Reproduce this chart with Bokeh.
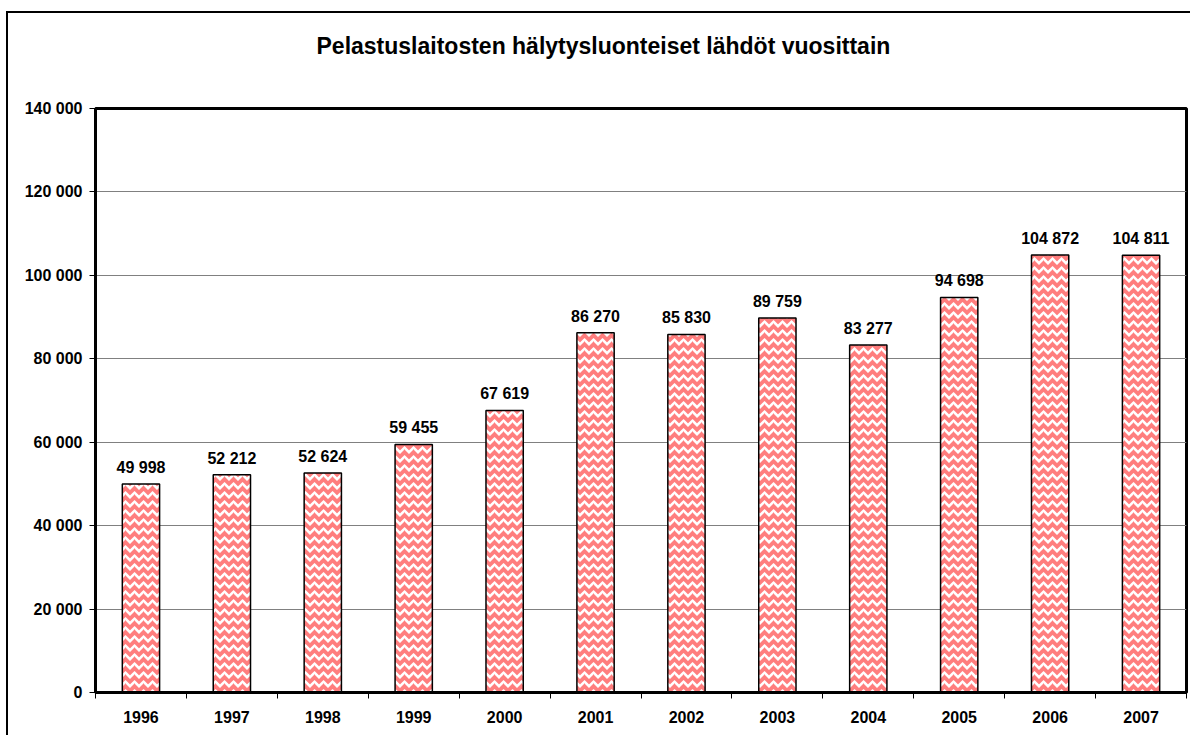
from bokeh.plotting import figure
from bokeh.models import ColumnDataSource, Range1d, FixedTicker, LabelSet, Title
from bokeh.core.properties import value
from bokeh.embed import file_html
from bokeh.resources import INLINE

years = ["1996", "1997", "1998", "1999", "2000", "2001", "2002", "2003", "2004", "2005", "2006", "2007"]
values = [49998, 52212, 52624, 59455, 67619, 86270, 85830, 89759, 83277, 94698, 104872, 104811]
y_ticks = [0, 20000, 40000, 60000, 80000, 100000, 120000, 140000]
title_text = "Pelastuslaitosten hälytysluonteiset lähdöt vuosittain"

def fmt(v):
    return "{:,}".format(v).replace(",", " ")

xs = [i + 0.5 for i in range(len(years))]
src = ColumnDataSource(dict(x=xs, top=values, lab=[fmt(v) for v in values]))

p = figure(width=1184, height=724, output_backend="svg", toolbar_location=None,
           x_range=Range1d(0, len(years)), y_range=Range1d(0, 140000),
           min_border_left=87, min_border_top=95, min_border_right=6, min_border_bottom=45)
p.styles = {"border-left": "2px solid black", "border-top": "2px solid black",
            "margin-top": "11px", "margin-left": "6px"}

# spacer between frame and title
p.add_layout(Title(text=" ", text_font_size="23px", standoff=22), "above")

p.title.text = title_text
p.title.align = "left"
p.title.offset = 221
p.title.standoff = 0
p.title.text_font = "Liberation Sans"
p.title.text_font_style = "bold"
p.title.text_font_size = "23px"
p.title.text_color = "black"

p.vbar(x="x", top="top", width=0.41, source=src, fill_color="#ff7e7e",
       hatch_pattern="horizontal_wave", hatch_color="white", hatch_weight=2.5, hatch_scale=9,
       line_color="black", line_width=1.5)

p.add_layout(LabelSet(x="x", y="top", text="lab", source=src, text_align="center",
                      text_baseline="bottom", y_offset=8, text_font=value("Liberation Sans"),
                      text_font_style="bold", text_font_size="16px", text_color="black"))

p.outline_line_color = "black"
p.outline_line_width = 3

p.xgrid.grid_line_color = None
p.ygrid.grid_line_color = "#808080"
p.ygrid.grid_line_width = 1
p.ygrid.ticker = FixedTicker(ticks=y_ticks)

p.yaxis.ticker = FixedTicker(ticks=y_ticks, minor_ticks=[])
p.yaxis.major_label_overrides = {t: fmt(t) for t in y_ticks}
p.xaxis.ticker = FixedTicker(ticks=xs, minor_ticks=list(range(len(years) + 1)))
p.xaxis.major_label_overrides = {x: y for x, y in zip(xs, years)}

for ax in (p.xaxis, p.yaxis):
    ax.axis_line_color = "black"
    ax.axis_line_width = 3
    ax.major_label_text_font = "Liberation Sans"
    ax.major_label_text_font_style = "bold"
    ax.major_label_text_font_size = "16px"
    ax.major_label_text_color = "black"
    ax.major_tick_in = 0
    ax.minor_tick_in = 0
    ax.major_tick_line_color = "black"
    ax.minor_tick_line_color = "black"
    ax.major_tick_line_width = 1
    ax.minor_tick_line_width = 1

p.xaxis.major_tick_out = 0
p.xaxis.minor_tick_out = 6
p.xaxis.major_label_standoff = 12
p.yaxis.major_tick_out = 6
p.yaxis.minor_tick_out = 0
p.yaxis.major_label_standoff = 7

open("out.html", "w").write(file_html(p, INLINE))
